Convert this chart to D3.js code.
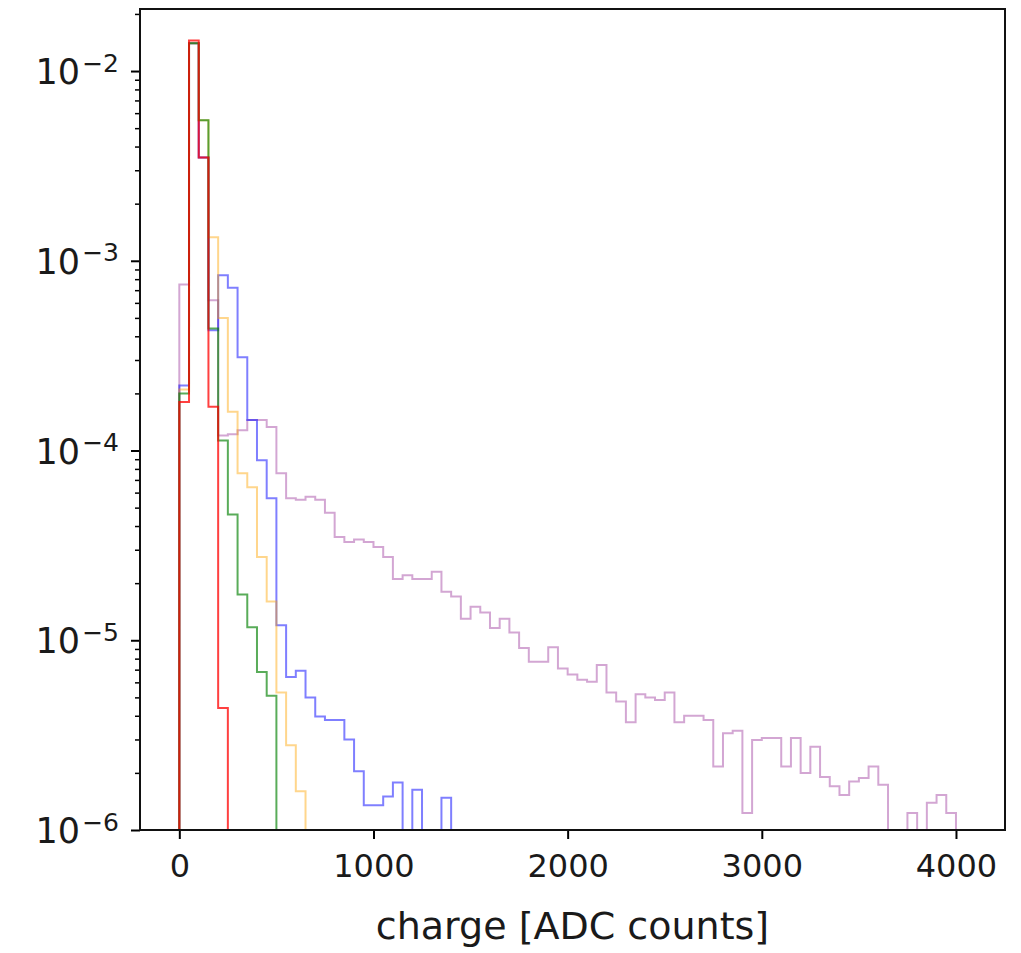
<!DOCTYPE html>
<html>
<head>
<meta charset="utf-8">
<script src="https://cdn.jsdelivr.net/npm/d3@7"></script>
<style>
  body { margin: 0; background: #fff; }
  svg text { font-family: "DejaVu Sans", sans-serif; fill: #1a1a1a; }
</style>
</head>
<body>
<div id="chart"></div>
<script>
// normalised counts per 50 ADC bin, first bin starts at 0
const binWidth = 50;
const purpleVals = [7.5e-4, 1.4e-2, 3.5e-3, 6.2e-4, 1.2e-4, 1.22e-4, 1.28e-4, 1.45e-4, 1.45e-4, 1.33e-4,
  7.6e-5, 5.6e-5, 5.5e-5, 5.7e-5, 5.5e-5, 4.7e-5, 3.5e-5, 3.3e-5, 3.4e-5, 3.3e-5,
  3.1e-5, 2.75e-5, 2.1e-5, 2.2e-5, 2.1e-5, 2.1e-5, 2.3e-5, 1.8e-5, 1.7e-5, 1.3e-5,
  1.5e-5, 1.4e-5, 1.16e-5, 1.3e-5, 1.1e-5, 9.1e-6, 7.7e-6, 7.7e-6, 9.2e-6, 7.1e-6,
  6.6e-6, 6.2e-6, 6.05e-6, 7.4e-6, 5.3e-6, 4.75e-6, 3.7e-6, 5.2e-6, 5.0e-6, 4.85e-6,
  5.3e-6, 3.7e-6, 4.0e-6, 4.0e-6, 3.8e-6, 2.16e-6, 3.24e-6, 3.33e-6, 1.23e-6, 2.98e-6,
  3.05e-6, 3.05e-6, 2.16e-6, 3.05e-6, 2.0e-6, 2.75e-6, 1.9e-6, 1.7e-6, 1.53e-6, 1.8e-6,
  1.88e-6, 2.16e-6, 1.73e-6, 0, 0, 1.23e-6, 0, 1.39e-6, 1.53e-6, 1.23e-6];
const blueVals = [2.2e-4, 1.4e-2, 3.5e-3, 4.3e-4, 8.4e-4, 7.2e-4, 3.1e-4, 1.45e-4, 8.9e-5, 5.6e-5,
  1.2e-5, 6.4e-6, 6.9e-6, 5.0e-6, 3.96e-6, 3.8e-6, 3.8e-6, 3.0e-6, 2.04e-6, 1.35e-6,
  1.35e-6, 1.5e-6, 1.78e-6, 0, 1.63e-6, 0, 0, 1.48e-6];
const orangeVals = [2.1e-4, 1.4e-2, 5.5e-3, 1.33e-3, 5.0e-4, 1.6e-4, 7.6e-5, 6.4e-5, 2.75e-5, 1.6e-5,
  5.3e-6, 2.8e-6, 1.6e-6];
const greenVals = [2.0e-4, 1.4e-2, 5.5e-3, 4.4e-4, 1.13e-4, 4.6e-5, 1.74e-5, 1.17e-5, 6.8e-6, 5.1e-6];
const redVals = [1.8e-4, 1.45e-2, 3.5e-3, 1.7e-4, 4.4e-6];

const xTicks = [0, 1000, 2000, 3000, 4000];
const yTicks = [1e-6, 1e-5, 1e-4, 1e-3, 1e-2];
const xLabel = "charge [ADC counts]";

const series = [
  { vals: purpleVals, color: "purple", alpha: 0.35 },
  { vals: blueVals, color: "blue", alpha: 0.5 },
  { vals: orangeVals, color: "orange", alpha: 0.45 },
  { vals: greenVals, color: "green", alpha: 0.65 },
  { vals: redVals, color: "red", alpha: 0.75 }
];

const W = 1021, H = 953;
const margin = { top: 9, right: 16, bottom: 123, left: 140 };
const width = W - margin.left - margin.right,
  height = H - margin.top - margin.bottom;

const svg = d3.select("#chart").append("svg")
  .attr("width", W)
  .attr("height", H);

const g = svg.append("g").attr("transform", "translate(" + margin.left + "," + margin.top + ")");

const x = d3.scaleLinear()
  .domain([-202.5, 4252.5])
  .range([0, width]);

const y = d3.scaleLog()
  .domain([1e-6, Math.pow(10, -1.673)])
  .range([height, 0]);

svg.append("defs").append("clipPath").attr("id", "clip")
  .append("rect").attr("width", width).attr("height", height);

// step outline like histtype="step"
function stepPoints(vals) {
  const floor = 1e-9;
  const pts = [[x(0), y(floor)]];
  vals.forEach((v, i) => {
    const yy = y(Math.max(v, floor));
    pts.push([x(i * binWidth), yy]);
    pts.push([x((i + 1) * binWidth), yy]);
  });
  pts.push([x(vals.length * binWidth), y(floor)]);
  return pts;
}

const line = d3.line();

g.append("g").attr("clip-path", "url(#clip)")
  .selectAll("path")
  .data(series)
  .join("path")
  .attr("d", d => line(stepPoints(d.vals)))
  .attr("fill", "none")
  .attr("stroke", d => d.color)
  .attr("stroke-opacity", d => d.alpha)
  .attr("stroke-width", 2)
  .attr("stroke-linejoin", "miter");

// x axis
const xAxis = g.append("g")
  .attr("transform", "translate(0," + height + ")")
  .call(d3.axisBottom(x).tickValues(xTicks).tickFormat(d3.format("d")).tickSize(9).tickPadding(15));
xAxis.select(".domain").remove();
xAxis.selectAll(".tick line").attr("stroke", "#000").attr("stroke-width", 2);
xAxis.selectAll(".tick text").style("font-size", "32px");

// y axis, major + minor ticks
const minor = [];
for (let e = -6; e <= -2; e++) {
  for (let m = 2; m <= 9; m++) {
    const v = m * Math.pow(10, e);
    if (v <= y.domain()[1]) minor.push(v);
  }
}
const yMinor = g.append("g")
  .call(d3.axisLeft(y).tickValues(minor).tickFormat("").tickSize(5));
yMinor.select(".domain").remove();
yMinor.selectAll(".tick line").attr("stroke", "#000").attr("stroke-width", 1.5);

const yAxis = g.append("g")
  .call(d3.axisLeft(y).tickValues(yTicks).tickSize(9).tickPadding(12).tickFormat(""));
yAxis.select(".domain").remove();
yAxis.selectAll(".tick line").attr("stroke", "#000").attr("stroke-width", 2);
yAxis.selectAll(".tick").each(function (d) {
  const t = d3.select(this).select("text")
    .attr("dy", "0.36em")
    .style("font-size", "35px");
  t.append("tspan").text("10");
  t.append("tspan")
    .attr("dx", "2")
    .attr("dy", "-0.5em")
    .style("font-size", "25px")
    .text("\u2212" + Math.abs(Math.round(Math.log10(d))));
});

// frame
g.append("rect")
  .attr("width", width)
  .attr("height", height)
  .attr("fill", "none")
  .attr("stroke", "#111")
  .attr("stroke-width", 2);

svg.append("text")
  .attr("x", margin.left + width / 2)
  .attr("y", 939)
  .attr("text-anchor", "middle")
  .style("font-size", "38px")
  .text(xLabel);
</script>
</body>
</html>
